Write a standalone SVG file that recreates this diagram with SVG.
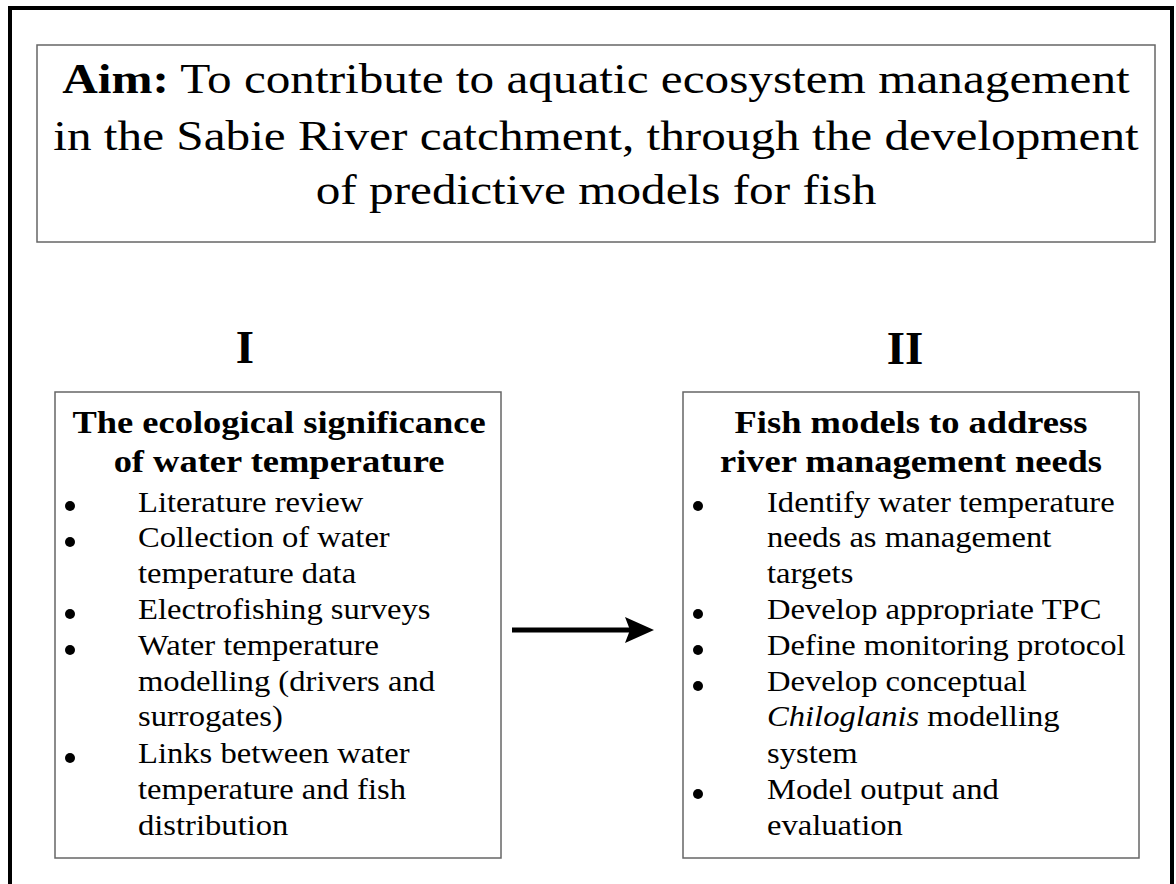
<svg xmlns="http://www.w3.org/2000/svg" width="1176" height="884" viewBox="0 0 1176 884">
<style>
.t{font-family:"Liberation Serif","Times New Roman",serif;fill:#000}
.title{font-size:43px}
.num{font-size:47px;font-weight:bold}
.hd{font-size:32px;font-weight:bold}
.it{font-size:30px}
.box{fill:#fff;stroke:#666;stroke-width:1.5}
.dot{fill:#000}
</style>
<rect x="0" y="0" width="1176" height="884" fill="#fff"/>
<rect x="10" y="8" width="1162" height="900" fill="none" stroke="#000" stroke-width="4"/>
<g id="aim">
<rect class="box" x="37" y="45" width="1118" height="197"/>
<g transform="translate(596 0) scale(1.145 1)">
<text class="t title" text-anchor="middle" x="0" y="93"><tspan font-weight="bold">Aim:</tspan> To contribute to aquatic ecosystem management</text>
<text class="t title" text-anchor="middle" x="0" y="150">in the Sabie River catchment, through the development</text>
<text class="t title" text-anchor="middle" x="0" y="204">of predictive models for fish</text>
</g>
</g>
<g id="label-I"><text class="t num" text-anchor="middle" x="245" y="363">I</text></g>
<g id="label-II"><text class="t num" text-anchor="middle" x="905" y="364">II</text></g>
<g id="box-I">
<rect class="box" x="55" y="392" width="446" height="466"/>
<g transform="translate(279 0) scale(1.14 1)">
<text class="t hd" text-anchor="middle" x="0" y="433">The ecological significance</text>
<text class="t hd" text-anchor="middle" x="0" y="472">of water temperature</text>
</g>
<g class="t it" transform="translate(138 0) scale(1.087 1)">
<text x="0" y="512">Literature review</text>
<text x="0" y="547">Collection of water</text>
<text x="0" y="583">temperature data</text>
<text x="0" y="619">Electrofishing surveys</text>
<text x="0" y="655">Water temperature</text>
<text x="0" y="691">modelling (drivers and</text>
<text x="0" y="726">surrogates)</text>
<text x="0" y="763">Links between water</text>
<text x="0" y="799">temperature and fish</text>
<text x="0" y="835">distribution</text>
</g>
<circle class="dot" cx="70" cy="506" r="5"/>
<circle class="dot" cx="70" cy="542" r="5"/>
<circle class="dot" cx="70" cy="614" r="5"/>
<circle class="dot" cx="70" cy="650" r="5"/>
<circle class="dot" cx="70" cy="758" r="5"/>
</g>
<g id="box-II">
<rect class="box" x="683" y="392" width="456" height="466"/>
<g transform="translate(911 0) scale(1.14 1)">
<text class="t hd" text-anchor="middle" x="0" y="433">Fish models to address</text>
<text class="t hd" text-anchor="middle" x="0" y="472">river management needs</text>
</g>
<g class="t it" transform="translate(767 0) scale(1.087 1)">
<text x="0" y="512">Identify water temperature</text>
<text x="0" y="547">needs as management</text>
<text x="0" y="583">targets</text>
<text x="0" y="619">Develop appropriate TPC</text>
<text x="0" y="655">Define monitoring protocol</text>
<text x="0" y="691">Develop conceptual</text>
<text x="0" y="726"><tspan font-style="italic">Chiloglanis</tspan> modelling</text>
<text x="0" y="763">system</text>
<text x="0" y="799">Model output and</text>
<text x="0" y="835">evaluation</text>
</g>
<circle class="dot" cx="698" cy="506" r="5"/>
<circle class="dot" cx="698" cy="614" r="5"/>
<circle class="dot" cx="698" cy="650" r="5"/>
<circle class="dot" cx="698" cy="686" r="5"/>
<circle class="dot" cx="698" cy="794" r="5"/>
</g>
<g id="connectors">
<line x1="512" y1="630" x2="630" y2="630" stroke="#000" stroke-width="5"/>
<polygon points="654,630 625,617 630,630 625,643" fill="#000"/>
</g>
</svg>
